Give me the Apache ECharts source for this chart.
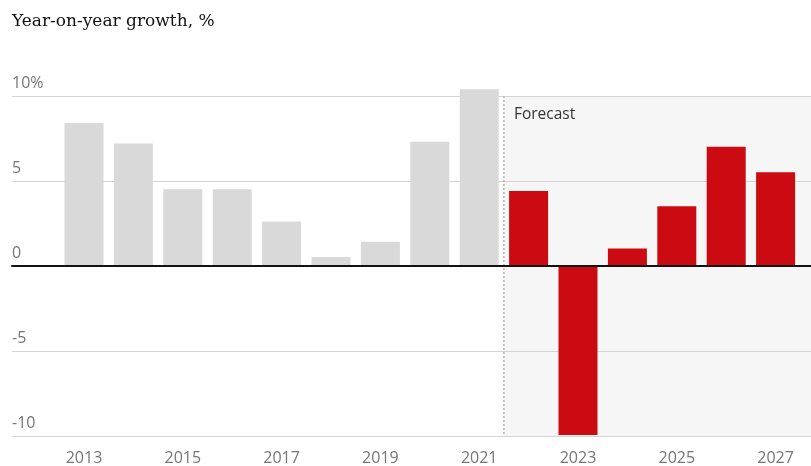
<!DOCTYPE html>
<html>
<head>
<meta charset="utf-8">
<script src="https://cdn.jsdelivr.net/npm/echarts@6/dist/echarts.min.js"></script>
<style>
  html, body { margin: 0; padding: 0; background: #fff; }
  #chart { width: 811px; height: 466px; }
</style>
</head>
<body>
<div id="chart"></div>
<script>
// Annual growth, actual outturn then forecast years
const years = ['2013','2014','2015','2016','2017','2018','2019','2020','2021','2022','2023','2024','2025','2026','2027'];
const actualGrowth = [8.4, 7.2, 4.5, 4.5, 2.6, 0.5, 1.4, 7.3, 10.4, null, null, null, null, null, null];
const forecastGrowth = [null, null, null, null, null, null, null, null, null, 4.4, -10, 1.0, 3.5, 7.0, 5.5];
const yTicks = { min: -10, max: 10, interval: 5 };
const firstForecastYear = '2022';

const chart = echarts.init(document.getElementById('chart'));
const sans = '"Open Sans", "Noto Sans", sans-serif';
const labelGrey = '#767676';

chart.setOption({
  animation: false,
  title: {
    text: 'Year-on-year growth, %',
    left: 12, top: 13, padding: 0,
    textStyle: { fontFamily: '"DejaVu Serif", serif', fontSize: 17, fontWeight: 'normal', color: '#121212' }
  },
  grid: [
    { left: 12, right: 0, top: 96, bottom: 30 },
    { left: 59.3, right: 10.7, top: 96, bottom: 30 }
  ],
  xAxis: [
    {
      gridIndex: 0, type: 'value', min: 0, max: 1,
      axisLabel: { show: false }, axisTick: { show: false }, splitLine: { show: false },
      axisLine: { show: true, onZero: true, lineStyle: { color: '#121212', width: 2 } },
      z: 5
    },
    {
      gridIndex: 1, type: 'category', data: years,
      axisLine: { show: false }, axisTick: { show: false },
      axisLabel: { interval: 1, color: labelGrey, fontFamily: sans, fontSize: 16, margin: 15 }
    }
  ],
  yAxis: [
    {
      gridIndex: 0, type: 'value', min: yTicks.min, max: yTicks.max, interval: yTicks.interval,
      axisLine: { show: false }, axisTick: { show: false },
      splitLine: { lineStyle: { color: '#d4d4d4', width: 1 } },
      axisLabel: {
        inside: true, margin: 0, align: 'left', verticalAlign: 'bottom',
        padding: [0, 0, 5, 0],
        color: labelGrey, fontFamily: sans, fontSize: 16,
        formatter: v => v === yTicks.max ? v + '%' : String(v)
      }
    },
    {
      gridIndex: 1, type: 'value', min: yTicks.min, max: yTicks.max, interval: yTicks.interval,
      show: false, splitLine: { show: false }
    }
  ],
  series: [
    {
      type: 'bar', name: 'Actual', xAxisIndex: 1, yAxisIndex: 1,
      data: actualGrowth, barWidth: 39, barGap: '-100%', clip: false,
      itemStyle: { color: '#d9d9d9' }, z: 3
    },
    {
      type: 'bar', name: 'Forecast', xAxisIndex: 1, yAxisIndex: 1,
      data: forecastGrowth, barWidth: 39, clip: false,
      itemStyle: { color: '#cc0a11' }, z: 3
    }
  ]
});

// Shade the forecast period, starting at the boundary before its first year
const idx = years.indexOf(firstForecastYear);
const xPrev = chart.convertToPixel({ xAxisIndex: 1 }, years[idx - 1]);
const xFirst = chart.convertToPixel({ xAxisIndex: 1 }, years[idx]);
const xSplit = (xPrev + xFirst) / 2;
const yTop = chart.convertToPixel({ yAxisIndex: 0 }, yTicks.max);
const yBottom = chart.convertToPixel({ yAxisIndex: 0 }, yTicks.min);
const width = chart.getWidth();

chart.setOption({
  graphic: [
    {
      type: 'rect', z: -10, silent: true,
      shape: { x: xSplit, y: yTop, width: width - xSplit, height: yBottom - yTop },
      style: { fill: '#f6f6f6' }
    },
    {
      type: 'line', z: 1, silent: true,
      shape: { x1: xSplit, y1: yTop, x2: xSplit, y2: yBottom },
      style: { stroke: '#b5b5b5', lineWidth: 1.5, lineDash: [2, 2] }
    },
    {
      type: 'text', z: 4, silent: true,
      x: xSplit + 10, y: yTop + 11,
      style: { text: 'Forecast', fill: '#333333', font: '15.5px ' + sans }
    }
  ]
});
</script>
</body>
</html>
